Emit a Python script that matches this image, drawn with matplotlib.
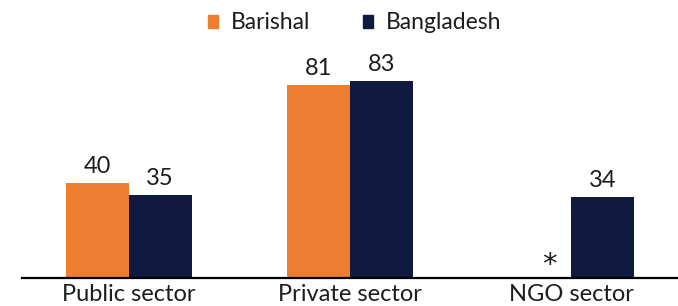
import numpy as np
import matplotlib
matplotlib.use("Agg")
import matplotlib.pyplot as plt
from matplotlib.patches import Patch

plt.rcParams['font.family'] = ['Lato', 'DejaVu Sans']

# data
categories = ["Public sector", "Private sector", "NGO sector"]
barishal = [40, 81, None]      # NGO value not shown (*)
bangladesh = [35, 83, 34]
series_names = ["Barishal", "Bangladesh"]

orange = "#ED7D31"
navy = "#101A40"
txt = "#1a1f1a"

fig = plt.figure(figsize=(6.78, 3.06), dpi=100)
ax = fig.add_axes([0.032, 0.0915, 0.968, 0.7775])

x = np.arange(len(categories))
w = 0.285

for i, v in enumerate(barishal):
    if v is None:
        ax.text(x[i] - w / 2 + 0.045, 5.5, "*", ha="center", va="center",
                fontsize=21, color=txt, family="DejaVu Sans")
        continue
    ax.bar(x[i] - w / 2, v, w, color=orange)
    ax.text(x[i] - w / 2, v + 2.5, str(v), ha="center", va="bottom",
            fontsize=17, color=txt)

for i, v in enumerate(bangladesh):
    ax.bar(x[i] + w / 2, v, w, color=navy)
    ax.text(x[i] + w / 2, v + 2.5, str(v), ha="center", va="bottom",
            fontsize=17, color=txt)

ax.set_xlim(-0.484, 2.484)
ax.set_ylim(0, 100)
ax.set_xticks(x)
ax.set_xticklabels(categories, fontsize=17, color=txt)
ax.tick_params(axis="x", length=0, pad=4)
ax.set_yticks([])
for s in ["top", "right", "left"]:
    ax.spines[s].set_visible(False)
ax.spines["bottom"].set_linewidth(1.6)
ax.spines["bottom"].set_color("black")

handles = [Patch(color=orange), Patch(color=navy)]
fig.legend(handles, series_names, loc="center", bbox_to_anchor=(0.523, 0.925),
           ncol=2, frameon=False, fontsize=16.5, handlelength=0.45,
           handleheight=0.47, handletextpad=0.55, columnspacing=2.3,
           labelcolor=txt)

plt.savefig("out.png", dpi=100)
